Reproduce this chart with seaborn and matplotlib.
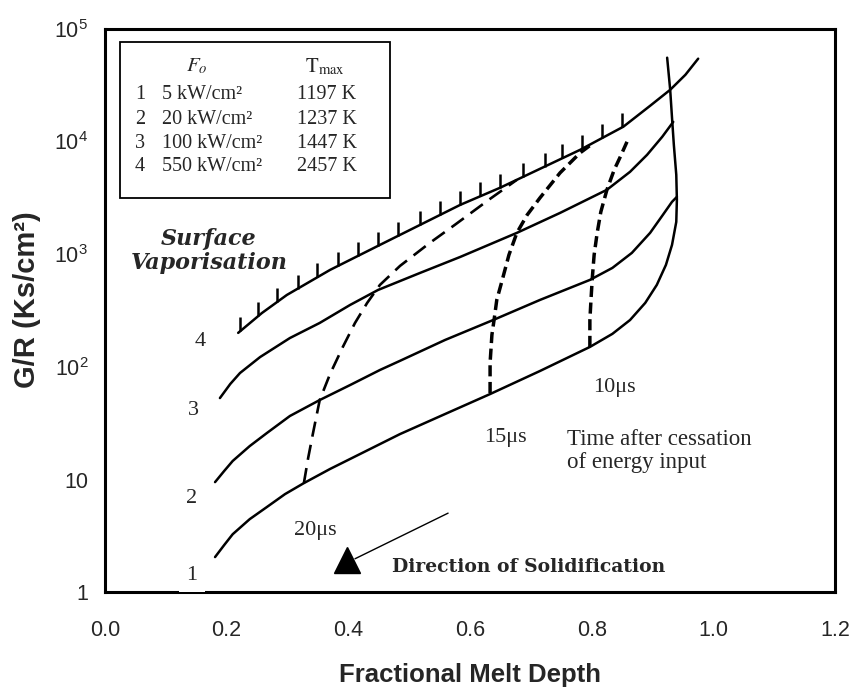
import numpy as np
import pandas as pd
import matplotlib
matplotlib.use("Agg")
import matplotlib.pyplot as plt
import seaborn as sns
from matplotlib.patches import Rectangle

# ---------------- data ----------------
c1_x = [0.181, 0.196, 0.210, 0.238, 0.266, 0.296, 0.327, 0.370, 0.419, 0.485, 0.559, 0.633,
        0.715, 0.797, 0.834, 0.863, 0.888, 0.907, 0.922, 0.932, 0.939, 0.940, 0.939, 0.935,
        0.932, 0.929, 0.924]
c1_y = [2.05, 2.62, 3.27, 4.45, 5.69, 7.42, 9.29, 12.4, 16.8, 25.3, 38.1, 57.3,
        91.8, 150, 196, 260, 369, 533, 802, 1207, 1932, 3030, 5050, 9330,
        16200, 28700, 55300]

c2_x = [0.181, 0.196, 0.210, 0.238, 0.266, 0.304, 0.353, 0.403, 0.452, 0.485, 0.559, 0.638,
        0.715, 0.797, 0.834, 0.866, 0.896, 0.917, 0.932, 0.940]
c2_y = [9.48, 11.9, 14.6, 19.8, 25.8, 36.6, 50.7, 68.9, 93.7, 113, 173, 260,
        392, 590, 754, 1025, 1543, 2230, 2910, 3220]

c3_x = [0.189, 0.206, 0.222, 0.255, 0.304, 0.353, 0.403, 0.449, 0.518, 0.584, 0.677, 0.748,
        0.825, 0.863, 0.891, 0.916, 0.934]
c3_y = [52.8, 70.4, 88.1, 122, 180, 245, 354, 481, 681, 944, 1543, 2320,
        3720, 5370, 7600, 11000, 14900]

c4_x = [0.219, 0.258, 0.299, 0.370, 0.452, 0.518, 0.584, 0.649, 0.715, 0.781, 0.852, 0.896,
        0.929, 0.954, 0.975]
c4_y = [200, 300, 434, 724, 1207, 1817, 2735, 3870, 5710, 8420, 13500, 20700,
        28700, 39000, 54200]

t20_x = [0.327, 0.334, 0.342, 0.353, 0.370, 0.391, 0.411, 0.431, 0.452, 0.485, 0.534, 0.575,
         0.633, 0.677]
t20_y = [9.29, 15.5, 25.8, 50.7, 86.3, 150, 245, 369, 533, 786, 1258, 1817,
         3092, 4560]

t15_x = [0.633, 0.633, 0.636, 0.640, 0.644, 0.653, 0.664, 0.677, 0.694, 0.715, 0.748, 0.781, 0.801]
t15_y = [58.5, 108, 192, 271, 392, 590, 984, 1543, 2230, 3156, 5260, 7920, 9520]

t10_x = [0.797, 0.797, 0.799, 0.801, 0.804, 0.809, 0.815, 0.825, 0.837, 0.847, 0.858]
t10_y = [150, 260, 408, 614, 984, 1543, 2370, 3720, 5600, 7300, 9920]

hatch_x = [0.222, 0.252, 0.283, 0.317, 0.349, 0.383, 0.416, 0.449, 0.482, 0.518,
           0.551, 0.584, 0.617, 0.649, 0.687, 0.723, 0.751, 0.784, 0.817, 0.850]

curve_labels = ["1", "2", "3", "4"]
curve_label_x = [0.143, 0.143, 0.145, 0.156]
curve_label_y = [1.42, 6.84, 41.3, 166]

time_labels = ["20\u03bcs", "15\u03bcs", "10\u03bcs"]
time_label_x = [0.345, 0.658, 0.838]
time_label_y = [3.55, 23.8, 64.9]

legend_flux = ["5 kW/cm\u00b2", "20 kW/cm\u00b2", "100 kW/cm\u00b2", "550 kW/cm\u00b2"]
legend_tmax = ["1197 K", "1237 K", "1447 K", "2457 K"]

x_ticks = [0.0, 0.2, 0.4, 0.6, 0.8, 1.0, 1.2]
x_tick_labels = ["0.0", "0.2", "0.4", "0.6", "0.8", "1.0", "1.2"]
y_ticks = [1, 10, 100, 1000, 10000, 100000]
y_tick_labels = ["1", "10", r"$\mathregular{10^2}$", r"$\mathregular{10^3}$",
                 r"$\mathregular{10^4}$", r"$\mathregular{10^5}$"]

# ---------------- style ----------------
sns.set_style("white")
SANS = "Liberation Sans"
SERIF = "Liberation Serif"
plt.rcParams["font.family"] = [SANS, "DejaVu Sans"]
plt.rcParams["lines.scale_dashes"] = False
plt.rcParams["axes.unicode_minus"] = False

fig = plt.figure(figsize=(8.53, 7.0), dpi=100)
ax = fig.add_axes([0.123, 0.154, 0.856, 0.805])

LW = 1.8
kw = dict(color="black", sort=False, estimator=None, ax=ax, legend=False)
sns.lineplot(x=c1_x, y=c1_y, lw=LW, **kw)
sns.lineplot(x=c2_x, y=c2_y, lw=LW, **kw)
sns.lineplot(x=c3_x, y=c3_y, lw=LW, **kw)
sns.lineplot(x=c4_x, y=c4_y, lw=LW, **kw)
sns.lineplot(x=t20_x, y=t20_y, lw=1.9, linestyle=(0, (11, 6)), **kw)
sns.lineplot(x=t15_x, y=t15_y, lw=2.5, linestyle=(0, (8, 4)), **kw)
sns.lineplot(x=t10_x, y=t10_y, lw=2.5, linestyle=(0, (8, 4)), **kw)

# hatch marks for the surface-vaporisation limit, sitting on curve 4
hatch_y = 10 ** np.interp(hatch_x, c4_x, np.log10(c4_y))
ax.plot(hatch_x, hatch_y, linestyle="none", marker=2, markersize=10,
        markeredgewidth=1.8, color="black")

ax.set_yscale("log")
ax.set_xlim(0, 1.2)
ax.set_ylim(1, 1e5)
ax.set_xticks(x_ticks)
ax.set_xticklabels(x_tick_labels)
ax.set_yticks(y_ticks)
ax.set_yticklabels(y_tick_labels)
ax.minorticks_off()
ax.tick_params(axis="both", direction="in", length=6, width=2, labelsize=15.5, color="black")
ax.tick_params(axis="x", pad=20)
ax.tick_params(axis="y", pad=12)

for s in ax.spines.values():
    s.set_linewidth(2.2)
    s.set_color("black")

ax.set_xlabel("Fractional Melt Depth", fontsize=18.5, fontweight="bold", family=SANS)
ax.xaxis.set_label_coords(0.5, -0.125)
ax.set_ylabel("G/R (Ks/cm\u00b2)", fontsize=21, fontweight="bold", family=SANS)
ax.yaxis.set_label_coords(-0.088, 0.52)

# curve labels
for t, x, y in zip(curve_labels, curve_label_x, curve_label_y):
    bb = dict(boxstyle="square,pad=0.35", fc="white", ec="none") if t == "1" else None
    ax.text(x, y, t, ha="center", va="center", fontsize=16, family=SERIF, bbox=bb,
            zorder=5, clip_on=False)

for t, x, y in zip(time_labels, time_label_x, time_label_y):
    ax.text(x, y, t, ha="center", va="center", fontsize=16, family=SERIF)

ax.text(0.760, 17.9, "Time after cessation\nof energy input", ha="left", va="center",
        fontsize=16.5, family=SERIF, linespacing=1.15)

ax.text(0.171, 1067, "Surface\nVaporisation", ha="center", va="center", fontsize=16,
        family="DejaVu Serif", fontweight="bold", fontstyle="italic", linespacing=1.1)

ax.text(0.472, 1.67, "Direction of Solidification", ha="left", va="center", fontsize=13.5,
        family="DejaVu Serif", fontweight="bold")

# direction arrow: thin line + solid triangle
ax.plot([0.564, 0.411], [5.03, 1.98], color="black", lw=1.0)
ax.plot([0.398], [1.92], marker="^", markersize=19, color="black", linestyle="none")

# legend table
ax.add_patch(Rectangle((0.0205, 0.700), 0.370, 0.277, transform=ax.transAxes,
                       fill=False, ec="black", lw=1.3, zorder=4))
ax.text(0.126, 0.933, r"$F_o$", transform=ax.transAxes, ha="center", va="center",
        fontsize=15, math_fontfamily="stix")
ax.text(0.301, 0.933, r"$\mathrm{T}_{\mathrm{max}}$", transform=ax.transAxes, ha="center",
        va="center", fontsize=15, math_fontfamily="stix")
row_y = [0.883, 0.838, 0.797, 0.755]
for i, (f, tm, ry) in enumerate(zip(legend_flux, legend_tmax, row_y)):
    ax.text(0.048, ry, curve_labels[i], transform=ax.transAxes, ha="center", va="center",
            fontsize=14.5, family=SERIF)
    ax.text(0.078, ry, f, transform=ax.transAxes, ha="left", va="center",
            fontsize=14.5, family=SERIF)
    ax.text(0.263, ry, tm, transform=ax.transAxes, ha="left", va="center",
            fontsize=14.5, family=SERIF)

fig.savefig("out.png", dpi=100, facecolor="white")
